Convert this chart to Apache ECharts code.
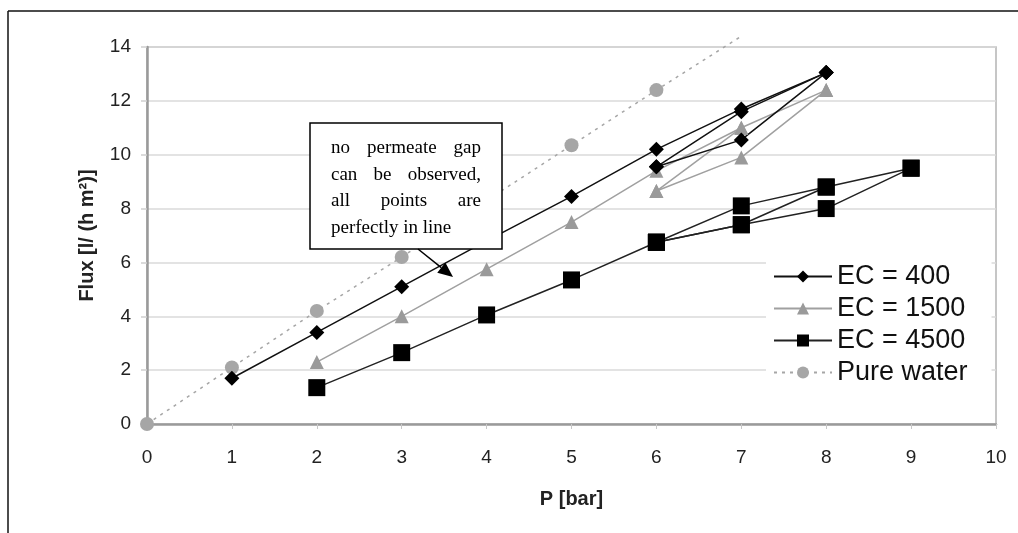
<!DOCTYPE html>
<html><head><meta charset="utf-8">
<script src="https://cdn.jsdelivr.net/npm/echarts@6/dist/echarts.min.js"></script>
<style>html,body{margin:0;padding:0;background:#fff}#c{width:1018px;height:533px}</style>
</head><body><div id="c"></div>
<script>
// ---- data ----
const seriesNames = ['EC = 400', 'EC = 1500', 'EC = 4500', 'Pure water'];
const ec400Run1 = [[1,1.7],[2,3.4],[3,5.1],[4,6.8],[5,8.45],[6,10.2],[7,11.7],[8,13.05]];
const ec400Run2 = [[6,9.55],[7,11.6],[8,13.05]];
const ec400Run3 = [[6,9.55],[7,10.55],[8,13.05]];
const ec1500Run1 = [[2,2.3],[3,4.0],[4,5.75],[5,7.5],[6,9.4],[7,11.0],[8,12.4]];
const ec1500Run2 = [[6,8.65],[7,9.9],[8,12.4]];
const ec1500Run3 = [[6,8.65],[7,11.0]];
const ec4500Run1 = [[2,1.35],[3,2.65],[4,4.05],[5,5.35],[6,6.75],[7,8.1],[8,8.8],[9,9.5]];
const ec4500Run2 = [[6,6.75],[7,7.4],[8,8.0],[9,9.5]];
const ec4500Run3 = [[6,6.75],[7,7.4],[8,8.8]];
const pureWater = [[0,0],[1,2.1],[2,4.2],[3,6.2],[4,8.3],[5,10.35],[6,12.4],[7,14.4]];
const xTickLabels = ['0','1','2','3','4','5','6','7','8','9','10'];
const yTickLabels = ['0','2','4','6','8','10','12','14'];
const noteLines = [['no','permeate','gap'],['can','be','observed,'],['all','points','are'],['perfectly in line']];
const xTitle = 'P [bar]';
const yTitle = 'Flux [l/ (h m²)]';

const sans = '"Liberation Sans", Arial, sans-serif';
const serif = '"Liberation Serif", "Times New Roman", serif';

const styles = {
  'EC = 400':  {symbol:'diamond',  symbolSize:15, color:'#000', line:{color:'#111', width:1.5, type:'solid'}},
  'EC = 1500': {symbol:'triangle', symbolSize:14, color:'#9a9a9a', line:{color:'#a0a0a0', width:1.5, type:'solid'}},
  'EC = 4500': {symbol:'rect',     symbolSize:17, color:'#000', line:{color:'#222', width:1.5, type:'solid'}},
  'Pure water':{symbol:'circle',   symbolSize:14, color:'#a6a6a6', line:{color:'#a6a6a6', width:1.5, type:[3,5]}}
};

function mk(name, data, extra) {
  const s = styles[name];
  return Object.assign({
    type:'line', name:name, data:data,
    symbol:s.symbol, symbolSize:s.symbolSize,
    itemStyle:{color:s.color},
    lineStyle:{color:s.line.color, width:s.line.width, type:s.line.type},
    animation:false, z:3
  }, extra||{});
}

const yMax = 14;
const series = [
  mk('Pure water', pureWater.map(p => p[1] > yMax ? {value:p, symbol:'none'} : p), {clip:false, z:2}),
  mk('EC = 1500', ec1500Run1), mk('EC = 1500', ec1500Run2), mk('EC = 1500', ec1500Run3),
  mk('EC = 4500', ec4500Run1), mk('EC = 4500', ec4500Run2), mk('EC = 4500', ec4500Run3),
  mk('EC = 400', ec400Run1), mk('EC = 400', ec400Run2), mk('EC = 400', ec400Run3)
];

// justified annotation text
const measureCtx = document.createElement('canvas').getContext('2d');
const noteFont = 19;
measureCtx.font = noteFont + 'px ' + serif;
const boxX = 310, boxY = 123, boxW = 192, boxH = 126;
const textL = 331, textR = 481;
const lineY0 = 148, lineStep = 26.6;
const noteEls = [];
noteLines.forEach((words, li) => {
  const y = lineY0 + li * lineStep;
  if (words.length === 1) {
    noteEls.push({type:'text', x:textL, y:y, z:101, style:{text:words[0], font:noteFont+'px '+serif, fill:'#000', verticalAlign:'middle', align:'left'}});
    return;
  }
  const widths = words.map(w => measureCtx.measureText(w).width);
  const total = widths.reduce((a,b)=>a+b,0);
  const gap = (textR - textL - total) / (words.length - 1);
  let x = textL;
  words.forEach((w, i) => {
    noteEls.push({type:'text', x:x, y:y, z:101, style:{text:w, font:noteFont+'px '+serif, fill:'#000', verticalAlign:'middle', align:'left'}});
    x += widths[i] + gap;
  });
});

// arrow
const ax0 = 418, ay0 = 249, ax1 = 453, ay1 = 277;
const dx = ax1 - ax0, dy = ay1 - ay0, len = Math.hypot(dx, dy);
const ux = dx/len, uy = dy/len, hl = 15, hw = 6.5;
const bx = ax1 - ux*hl, by = ay1 - uy*hl;

const option = {
  backgroundColor:'#fff',
  animation:false,
  grid:{left:147, right:22, top:47, bottom:109, show:true, borderColor:'#b4b4b4', borderWidth:1.5, containLabel:false},
  xAxis:{
    type:'value', min:0, max:10, interval:1,
    name:xTitle, nameLocation:'middle', nameGap:65,
    nameTextStyle:{fontFamily:sans, fontSize:20, fontWeight:'bold', color:'#222'},
    axisLine:{show:true, lineStyle:{color:'#9a9a9a', width:2.5}},
    axisTick:{show:true, length:5, lineStyle:{color:'#c8c8c8', width:1}},
    axisLabel:{fontFamily:sans, fontSize:19, color:'#222', margin:24, formatter:(v)=>xTickLabels[Math.round(v)]},
    splitLine:{show:false}
  },
  yAxis:{
    type:'value', min:0, max:yMax, interval:2,
    name:yTitle, nameLocation:'middle', nameGap:50,
    nameTextStyle:{fontFamily:sans, fontSize:20, fontWeight:'bold', color:'#222'},
    axisLine:{show:true, lineStyle:{color:'#9a9a9a', width:2.5}},
    axisTick:{show:true, length:6, lineStyle:{color:'#d0d0d0', width:1.5}},
    axisLabel:{fontFamily:sans, fontSize:19, color:'#222', margin:16, formatter:(v)=>yTickLabels[Math.round(v/2)]},
    splitLine:{show:true, lineStyle:{color:'#dadada', width:1.5}}
  },
  legend:{
    orient:'vertical', left:766, top:251,
    data:seriesNames,
    itemWidth:58, itemHeight:15, itemGap:5,
    padding:[12, 24, 14, 7],
    backgroundColor:'#fff',
    textStyle:{fontFamily:sans, fontSize:27, color:'#111', lineHeight:27},
    selectedMode:false
  },
  series:series,
  graphic:[
    {type:'line', z:100, shape:{x1:8, y1:11, x2:1018, y2:11}, style:{stroke:'#111', lineWidth:1.5}},
    {type:'line', z:100, shape:{x1:8, y1:11, x2:8, y2:533}, style:{stroke:'#111', lineWidth:1.5}},
    {type:'rect', z:100, shape:{x:boxX, y:boxY, width:boxW, height:boxH}, style:{fill:'#fff', stroke:'#000', lineWidth:1.5}},
    {type:'line', z:100, shape:{x1:ax0, y1:ay0, x2:bx, y2:by}, style:{stroke:'#000', lineWidth:1.5}},
    {type:'polygon', z:100, shape:{points:[[ax1,ay1],[bx-uy*hw, by+ux*hw],[bx+uy*hw, by-ux*hw]]}, style:{fill:'#000'}}
  ].concat(noteEls)
};

const chart = echarts.init(document.getElementById('c'), null, {renderer:'canvas'});
chart.setOption(option);
</script>
</body></html>
